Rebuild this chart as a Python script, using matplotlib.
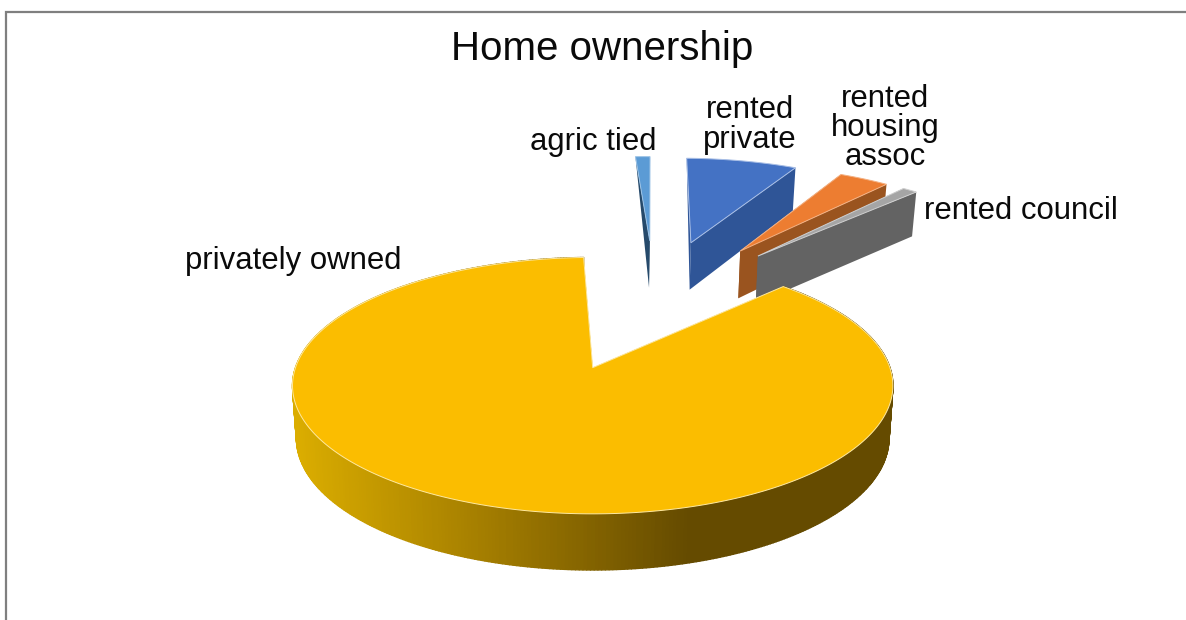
import numpy as np
import matplotlib
matplotlib.use("Agg")
import matplotlib.pyplot as plt
from matplotlib.collections import PolyCollection
from matplotlib.colors import LinearSegmentedColormap
from matplotlib.patches import Polygon

categories = ["agric tied", "rented private", "rented housing assoc", "rented council", "privately owned"]
shares = [1.0, 7.6, 3.4, 1.0, 87.0]
title = "Home ownership"

top_colors = ["#5b9bd5", "#4472c4", "#ed7d31", "#a5a5a5", "#fbbd00"]
side_colors = ["#264a6b", "#2f5597", "#9a541f", "#636363", "#8f6b00"]
edge_colors = ["#9cc3e6", "#a9bfe6", "#f4b183", "#d0d0d0", "#ffe9a0"]
rim_gradient = LinearSegmentedColormap.from_list("rim", ["#dcae00", "#a27c00", "#654b00", "#654b00"])

plt.rcParams["font.family"] = ["Liberation Sans", "DejaVu Sans"]

START_ANGLE = -2.0
EXPLODE = [0.6, 0.6, 0.6, 0.6, 0.618]
CENTER = (0.2245, 0.57)
CX = 593


def project(u, v):
    """Pie plane coordinates to canvas pixels, with a little perspective."""
    w = 1 + 0.14 * v
    return CX + 297 * u / w, 367 - 125.5 * v / w


def drop(u, v):
    """Same point on the underside of the pie."""
    x, y = project(u, v)
    return CX + (x - CX) * 0.987, y + 51.8 - 4.3 * v


def draw_slice(ax, i, a0, a1):
    is_main = i == len(shares) - 1
    mid = np.radians((a0 + a1) / 2)
    apex = (CENTER[0] + EXPLODE[i] * np.sin(mid), CENTER[1] + EXPLODE[i] * np.cos(mid))
    radius = 1.0 if is_main else 1.02

    theta = np.radians(np.linspace(a0, a1, 500))
    u = apex[0] + radius * np.sin(theta)
    v = apex[1] + radius * np.cos(theta)
    apex_top = project(*apex)
    apex_low = drop(*apex)
    top_x, top_y = project(u, v)
    low_x, low_y = drop(u, v)

    # only the big slice shows its rim, shaded left to right
    if is_main:
        quads = [[(top_x[k], top_y[k]), (top_x[k + 1], top_y[k + 1]),
                  (low_x[k + 1], low_y[k + 1]), (low_x[k], low_y[k])] for k in range(len(u) - 1)]
        shade = rim_gradient((top_x[:-1] - 290) / 600)
        ax.add_collection(PolyCollection(quads, facecolors=shade, edgecolors=shade, linewidths=1.0, zorder=i))

    # cut faces
    ax.add_patch(Polygon([(top_x[0], top_y[0]), apex_top, apex_low], closed=True,
                         fc=side_colors[i], ec="none", zorder=i + 0.1))
    ax.add_patch(Polygon([(top_x[-1], top_y[-1]), apex_top, apex_low, (low_x[-1], low_y[-1])], closed=True,
                         fc=side_colors[i], ec="none", zorder=i + 0.1))

    outline = list(zip(top_x, top_y)) + [apex_top]
    ax.add_patch(Polygon(outline, closed=True, fc=top_colors[i], ec=edge_colors[i], lw=0.7, zorder=i + 0.2))


fig = plt.figure(figsize=(11.86, 6.2), dpi=100)
ax = fig.add_axes([0, 0, 1, 1])
ax.set_xlim(0, 1186)
ax.set_ylim(620, 0)
ax.axis("off")

# chart frame runs off the right and bottom of the canvas
ax.plot([5.5, 5.5, 1186], [620, 12, 12], color="#7f7f7f", lw=1.6, solid_joinstyle="miter", zorder=0)

edges = START_ANGLE + 3.6 * np.concatenate([[0], np.cumsum(shares)])
for i in range(len(shares)):
    draw_slice(ax, i, edges[i], edges[i + 1])

text_color = "#0a0a0a"
ax.text(602, 49, title, fontsize=29, ha="center", va="center", color=text_color, zorder=10)
ax.text(593, 142, categories[0], fontsize=22.4, ha="center", va="center", color=text_color, zorder=10)
ax.text(750, 125, "rented\nprivate", fontsize=22.4, ha="center", va="center", linespacing=0.97, color=text_color, zorder=10)
ax.text(885, 128, "rented\nhousing\nassoc", fontsize=22.4, ha="center", va="center", linespacing=0.97, color=text_color, zorder=10)
ax.text(1021, 211, categories[3], fontsize=22.4, ha="center", va="center", color=text_color, zorder=10)
ax.text(293, 261, categories[4], fontsize=22.4, ha="center", va="center", color=text_color, zorder=10)

fig.savefig("out.png", dpi=100)
